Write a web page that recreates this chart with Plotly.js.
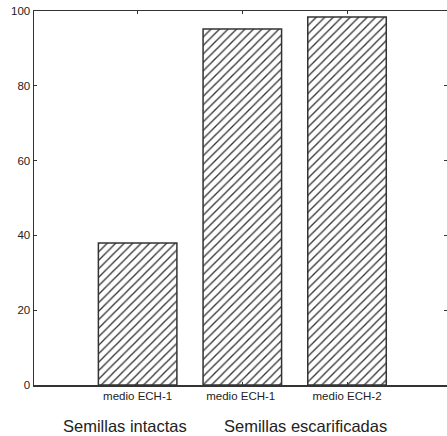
<!DOCTYPE html>
<html>
<head>
<meta charset="utf-8">
<script src="https://cdn.plot.ly/plotly-3.0.1.min.js"></script>
<style>html,body{margin:0;padding:0;background:#fff;}#chart{width:447px;height:436px;}</style>
</head>
<body>
<div id="chart"></div>
<script>
var categories = ["medio ECH-1", "medio ECH-1 ", "medio ECH-2"];
var values = [38, 95.2, 98.4];
var groupLabels = ["Semillas intactas", "Semillas escarificadas"];
var groupCenters = [-0.12, 1.6];
var yTicks = [0, 20, 40, 60, 80, 100];

var trace = {
  type: "bar",
  x: [0, 1, 2],
  y: values,
  width: 0.75,
  marker: {
    color: "#ffffff",
    line: {color: "#333333", width: 1.5},
    pattern: {shape: "/", size: 6, solidity: 0.22, fgcolor: "#333333", bgcolor: "#ffffff", fillmode: "replace"}
  },
  hoverinfo: "none"
};

var annotations = groupLabels.map(function (t, i) {
  return {
    text: t, xref: "x", yref: "paper", x: groupCenters[i], y: -0.11,
    yanchor: "middle", xanchor: "center", showarrow: false,
    font: {family: "Liberation Sans, Arial, sans-serif", size: 16.5, color: "#222"}
  };
});

var layout = {
  width: 447, height: 436,
  margin: {l: 34, r: 0, t: 11, b: 51},
  paper_bgcolor: "#fff", plot_bgcolor: "#fff",
  showlegend: false,
  font: {family: "Liberation Sans, Arial, sans-serif", color: "#222"},
  xaxis: {
    range: [-0.99, 2.955],
    tickmode: "array", tickvals: [0, 1, 2], ticktext: categories,
    ticks: "inside", ticklen: 3, tickcolor: "#333",
    showline: true, linecolor: "#333", linewidth: 1.5, mirror: "ticks",
    showgrid: false, zeroline: false,
    tickfont: {size: 11.5, color: "#222"}
  },
  yaxis: {
    range: [0, 100], tickmode: "array", tickvals: yTicks,
    ticks: "inside", ticklen: 3, tickcolor: "#333",
    showline: true, linecolor: "#333", linewidth: 1.5, mirror: "ticks",
    showgrid: false, zeroline: false,
    tickfont: {size: 11.5, color: "#222"}
  },
  annotations: annotations
};

Plotly.newPlot("chart", [trace], layout, {displayModeBar: false, staticPlot: true});
</script>
</body>
</html>
